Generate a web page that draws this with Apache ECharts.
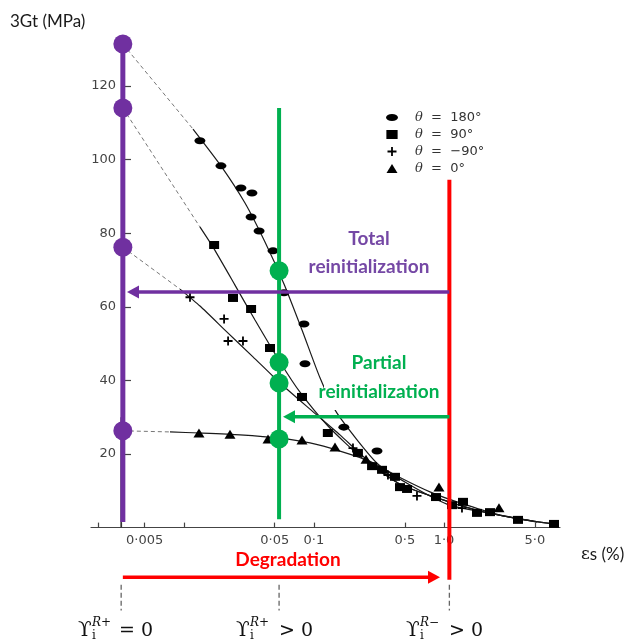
<!DOCTYPE html>
<html><head><meta charset="utf-8">
<script src="https://cdn.jsdelivr.net/npm/echarts@6/dist/echarts.min.js"></script>
<style>html,body{margin:0;padding:0;background:#fff}#c{width:627px;height:640px}</style>
</head><body><div id="c"></div>
<script>
// ---------- axis ticks ----------
const xTickValues = [0.0022, 0.0033, 0.005, 0.01, 0.05, 0.1, 0.5, 1, 5];
const xLabelValues = [0.005, 0.05, 0.1, 0.5, 1, 5];
const xLabelTexts = ['0·005', '0·05', '0·1', '0·5', '1·0', '5·0'];
const yTickValues = [20, 40, 60, 80, 100, 120];

// ---------- measured points [shear strain %, 3G (MPa)] ----------
const pts180 = [[0.0133,105.1],[0.0193,98.3],[0.0275,92.3],[0.0334,90.9],[0.0329,84.4],[0.0379,80.6],[0.0485,75.2],[0.0589,63.8],[0.0839,55.3],[0.0854,44.5],[0.170,27.3],[0.3055,20.8]];
const pts90 = [[0.0171,76.8],[0.0239,62.4],[0.0329,59.4],[0.0460,48.8],[0.0810,35.5],[0.128,25.7],[0.218,20.3],[0.280,16.7],[0.334,15.7],[0.420,13.8],[0.459,11.0],[0.520,10.5],[0.868,8.3],[1.152,6.1],[1.400,7.0],[1.793,4.0],[2.258,4.2],[3.706,2.1],[7.008,1.0]];
const ptsM90 = [[0.01116,62.6],[0.0204,56.7],[0.0219,50.7],[0.0285,50.7],[0.1997,21.6],[0.371,14.3],[0.620,8.6],[1.375,5.3]];
const pts0 = [[0.01308,25.7],[0.02265,25.4],[0.0444,24.1],[0.0810,23.8],[0.1453,21.9],[0.2516,18.6],[0.915,11.0],[2.647,5.4]];

// ---------- fitted curves ----------
const curve180 = [[0.01177,108.3],[0.0193,98.3],[0.02954,88.2],[0.04208,77.6],[0.05891,66.2],[0.08103,53.7],[0.1114,40.7],[0.1505,31.1],[0.3055,17.5],[0.548,11.6],[1.112,6.1],[2.694,3.4],[5.19,1.5]];
const curve90 = [[0.0133,81.7],[0.01677,76.2],[0.02474,65.9],[0.03526,56.4],[0.0549,45.0],[0.0782,36.8],[0.1283,27.6],[0.2343,18.9],[0.459,11.8],[0.932,7.8],[1.891,4.5],[3.84,2.3],[7.01,1.0]];
const curveM90 = [[0.00935,64.8],[0.01332,60.2],[0.02111,53.4],[0.03402,46.4],[0.0549,39.3],[0.0933,32.2],[0.1587,25.2],[0.2471,18.9],[0.459,11.8],[0.932,7.8],[1.891,4.5],[3.84,2.3],[7.01,1.0]];
const curve0 = [[0.00783,26.0],[0.0133,25.7],[0.02704,25.2],[0.0549,24.3],[0.0933,23.0],[0.1587,20.8],[0.2698,18.0],[0.4589,13.6],[0.780,9.7],[1.327,6.7],[2.694,3.4],[4.832,1.8]];

// ---------- extrapolation (dashed) ----------
const dash180 = [[0.0034,131.4],[0.01177,108.3]];
const dash90 = [[0.0034,114.0],[0.0133,81.7]];
const dashM90 = [[0.0034,76.2],[0.00935,64.8]];
const dash0 = [[0.0034,26.3],[0.00783,26.0]];

// ---------- annotation values ----------
const epsPurple = 0.0034, epsGreen = 0.054, epsRed = 1.1, epsAxis = 0.0033;
const purpleDotsG = [131.4, 114.0, 76.2, 26.3];
const greenDotsG = [69.8, 44.9, 39.3, 24.1];
const purpleLineG = [131.4, 1.5];
const greenLineG = [114.0, 2.3];
const redLineG = [94.5, -14.2];
const yAxisLineG = [0, 30];
const purpleArrow = [[1.1, 64.0], [0.00407, 64.0]];
const greenArrow = [[1.1, 30.1], [0.0644, 30.1]];
const redArrow = [[0.0034, -13.5], [0.838, -13.5]];
const guideX = [0.0033, 0.054, 1.1];
const guideG = [-15.5, -22.5];

const legendNames = ['θ = 180°', 'θ = 90°', 'θ = −90°', 'θ = 0°'];

const PURPLE = '#7030A0', GREEN = '#00B050', RED = '#FF0000';
const SYM_ELLIPSE = 'path://M0 3.5A6 3.5 0 1 0 12 3.5A6 3.5 0 1 0 0 3.5Z';
const SYM_RECT = 'path://M0 0H10V8H0Z';
const SYM_PLUS = 'path://M4 0H6V4H10V6H6V10H4V6H0V4H4Z';
const SYM_TRI = 'path://M5.5 0L11 9H0Z';

const chart = echarts.init(document.getElementById('c'), null, {renderer: 'canvas'});

function curveSeries(data) {
  return {type: 'line', data: data, smooth: 0.2, symbol: 'none', silent: true, z: 2,
    lineStyle: {color: '#1a1a1a', width: 1.2}};
}
function dashSeries(data) {
  return {type: 'line', data: data, symbol: 'none', silent: true, z: 2,
    lineStyle: {color: '#777', width: 1, type: [4, 3]}};
}
function markerSeries(name, data, sym, size) {
  return {type: 'scatter', name: name, data: data, symbol: sym, symbolSize: size, z: 3,
    itemStyle: {color: '#000', opacity: 1}, silent: true};
}
function segSeries(data, color, width, type, z) {
  return {type: 'line', data: data, symbol: 'none', clip: false, silent: true, z: z,
    lineStyle: {color: color, width: width, type: type}};
}
function headSeries(point, color, rotate) {
  return {type: 'scatter', data: [point], symbol: 'triangle', symbolSize: [13, 12], symbolRotate: rotate,
    clip: false, silent: true, z: 5, itemStyle: {color: color, opacity: 1}};
}
function dotSeries(x, gs, color) {
  return {type: 'scatter', data: gs.map(function (g) { return [x, g]; }), symbol: 'circle', symbolSize: 19,
    itemStyle: {color: color, opacity: 1}, z: 6, silent: true};
}
function findLabel(v) {
  for (let i = 0; i < xLabelValues.length; i++) {
    if (Math.abs(v - xLabelValues[i]) / xLabelValues[i] < 1e-6) return xLabelTexts[i];
  }
  return '';
}

const series = [
  curveSeries(curve180), curveSeries(curve90), curveSeries(curveM90), curveSeries(curve0),
  dashSeries(dash180), dashSeries(dash90), dashSeries(dashM90), dashSeries(dash0),
  segSeries(yAxisLineG.map(function (g) { return [epsAxis, g]; }), '#333', 1.5, 'solid', 2),
  markerSeries(legendNames[0], pts180, SYM_ELLIPSE, [11, 7]),
  markerSeries(legendNames[1], pts90, SYM_RECT, [10, 8]),
  markerSeries(legendNames[2], ptsM90, SYM_PLUS, [9, 9]),
  markerSeries(legendNames[3], pts0, SYM_TRI, [11, 9]),
  segSeries(purpleLineG.map(function (g) { return [epsPurple, g]; }), PURPLE, 5, 'solid', 4),
  segSeries(greenLineG.map(function (g) { return [epsGreen, g]; }), GREEN, 4, 'solid', 4),
  segSeries(redLineG.map(function (g) { return [epsRed, g]; }), RED, 4, 'solid', 4),
  segSeries(purpleArrow, PURPLE, 3.5, 'solid', 4), headSeries(purpleArrow[1], PURPLE, 90),
  segSeries(greenArrow, GREEN, 3.5, 'solid', 4), headSeries(greenArrow[1], GREEN, 90),
  segSeries(redArrow, RED, 3.5, 'solid', 4), headSeries(redArrow[1], RED, -90),
  dotSeries(epsPurple, purpleDotsG, PURPLE),
  dotSeries(epsGreen, greenDotsG, GREEN)
];
guideX.forEach(function (x) {
  series.push(segSeries(guideG.map(function (g) { return [x, g]; }), '#666', 1.3, [5, 3], 3));
});

function txt(x, y, text, font, fill, align) {
  return {type: 'text', x: x, y: y, z: 100, style: {text: text, font: font, fill: fill, align: align || 'left', verticalAlign: 'middle'}};
}

const option = {
  animation: false,
  backgroundColor: '#fff',
  grid: {left: 91, right: 67, top: 12.4, bottom: 112.4, containLabel: false, outerBoundsMode: 'none'},
  xAxis: {
    type: 'log', logBase: 10, min: 0.001935, max: 7.794,
    axisLine: {onZero: false, lineStyle: {color: '#444', width: 1.2}},
    axisTick: {inside: true, length: 5, customValues: xTickValues, lineStyle: {color: '#444', width: 1.2}},
    axisLabel: {customValues: xLabelValues, formatter: findLabel, margin: 7,
      color: '#444', fontSize: 13, fontFamily: 'DejaVu Sans'},
    splitLine: {show: false}, minorTick: {show: false}
  },
  yAxis: {
    type: 'value', min: 0, max: 140, offset: -30,
    axisLine: {show: false, onZero: false},
    axisTick: {show: true, inside: true, length: 10, customValues: yTickValues, lineStyle: {color: '#444', width: 1.2}},
    axisLabel: {customValues: yTickValues, margin: 5, color: '#444', fontSize: 13, fontFamily: 'DejaVu Sans'},
    splitLine: {show: false}
  },
  legend: {
    data: [
      {name: legendNames[0], icon: SYM_ELLIPSE},
      {name: legendNames[1], icon: SYM_RECT},
      {name: legendNames[2], icon: SYM_PLUS},
      {name: legendNames[3], icon: SYM_TRI}
    ],
    orient: 'vertical', left: 381, top: 106, itemWidth: 12, itemHeight: 9, itemGap: 4,
    selectedMode: false,
    formatter: function (n) { return '{t|θ}' + n.slice(1).replace(' = ', '  =  '); },
    textStyle: {color: '#333', fontSize: 13, fontFamily: 'DejaVu Sans', lineHeight: 12, padding: [0, 0, 0, 12],
      rich: {t: {fontStyle: 'italic', fontSize: 13, fontFamily: 'DejaVu Serif', color: '#333'}}}
  },
  series: series,
  graphic: [
    txt(10, 22, '3Gt (MPa)', '17px Lato', '#1a1a1a'),
    {type: 'text', x: 581, y: 555, z: 100, style: {text: '{e|ε}s (%)', font: '17px Lato', fill: '#1a1a1a', align: 'left', verticalAlign: 'middle',
      rich: {e: {font: '17px "DejaVu Serif"', fill: '#1a1a1a'}}}},
    txt(369, 239, 'Total', 'bold 19px Lato', '#7548A5', 'center'),
    txt(369, 267, 'reinitialization', 'bold 19px Lato', '#7548A5', 'center'),
    {type: 'rect', z: 50, shape: {x: 324, y: 374, width: 121, height: 36}, style: {fill: '#fff'}},
    txt(379, 363, 'Partial', 'bold 19px Lato', GREEN, 'center'),
    txt(379, 392, 'reinitialization', 'bold 19px Lato', GREEN, 'center'),
    txt(288, 560, 'Degradation', 'bold 19px Lato', RED, 'center'),
    txt(78, 631, 'ϒ', '20px "DejaVu Serif"', '#111'),
    txt(92, 623, 'R+', 'italic 12px "DejaVu Serif"', '#111'),
    txt(92, 636, 'i', '12px "DejaVu Serif"', '#111'),
    txt(119, 631, '= 0', '19px "DejaVu Serif"', '#111'),
    txt(236, 631, 'ϒ', '20px "DejaVu Serif"', '#111'),
    txt(250, 623, 'R+', 'italic 12px "DejaVu Serif"', '#111'),
    txt(250, 636, 'i', '12px "DejaVu Serif"', '#111'),
    txt(279, 631, '> 0', '19px "DejaVu Serif"', '#111'),
    txt(406, 631, 'ϒ', '20px "DejaVu Serif"', '#111'),
    txt(420, 623, 'R−', 'italic 12px "DejaVu Serif"', '#111'),
    txt(420, 636, 'i', '12px "DejaVu Serif"', '#111'),
    txt(449, 631, '> 0', '19px "DejaVu Serif"', '#111')
  ]
};
chart.setOption(option);
</script></body></html>
